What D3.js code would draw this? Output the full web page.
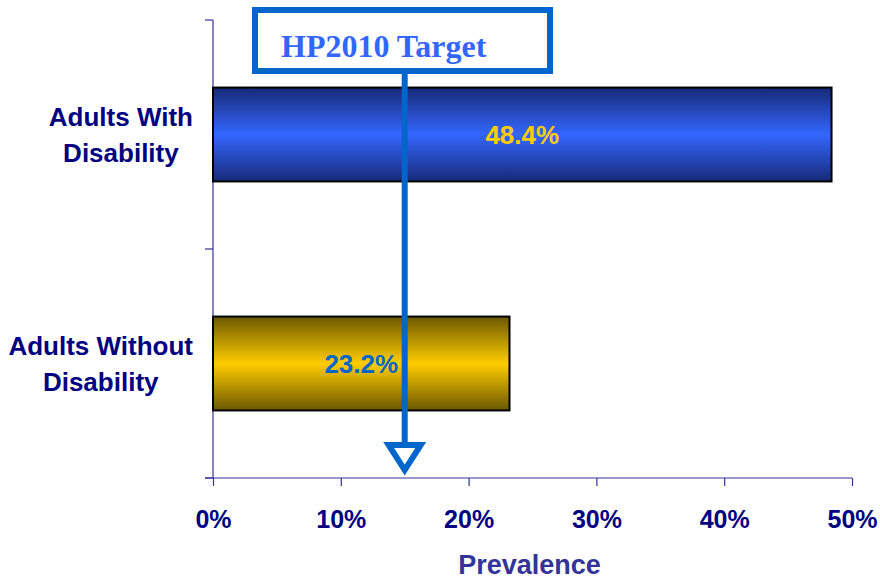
<!DOCTYPE html>
<html lang="en">
<head>
<meta charset="UTF-8">
<title>Prevalence</title>
<script src="https://d3js.org/d3.v7.min.js"></script>
<style>
  body { margin: 0; background: #fff; }
  text.sans { font-family: "Liberation Sans", Arial, sans-serif; font-weight: bold; }
  text.serif { font-family: "Liberation Serif", "Times New Roman", serif; font-weight: bold; }
</style>
</head>
<body>
<svg id="chart" width="880" height="580"></svg>
<script>
// data
const categories = [["Adults With", "Disability"], ["Adults Without", "Disability"]];
const values = [48.4, 23.2];
const valueLabels = ["48.4%", "23.2%"];
const xTicks = [0, 10, 20, 30, 40, 50];
const targetValue = 15;
const targetLabel = "HP2010 Target";

const svg = d3.select("#chart");
const margin = { top: 20, right: 28, bottom: 102, left: 213 };
const plotW = 880 - margin.left - margin.right;
const plotH = 580 - margin.top - margin.bottom;
const axisColor = "#333399";
const navy = "#000080";

const defs = svg.append("defs");
function addGradient(id, edge, mid) {
  const g = defs.append("linearGradient").attr("id", id)
    .attr("x1", 0).attr("y1", 0).attr("x2", 0).attr("y2", 1);
  g.append("stop").attr("offset", "0%").attr("stop-color", edge);
  g.append("stop").attr("offset", "50%").attr("stop-color", mid);
  g.append("stop").attr("offset", "100%").attr("stop-color", edge);
}
addGradient("gBlue", "#172a78", "#3366ff");
addGradient("gGold", "#6b5800", "#ffcc00");
const fills = ["url(#gBlue)", "url(#gGold)"];
const labelColors = ["#ffcc00", "#0066cc"];

const chart = svg.append("g").attr("transform", `translate(${margin.left},${margin.top})`);

const x = d3.scaleLinear().domain([0, 50]).range([0, plotW]);
const y = d3.scaleBand().domain(d3.range(categories.length)).range([0, plotH]).paddingInner(0.59).paddingOuter(0.295);

// y axis with ticks at band boundaries
const yBounds = d3.range(categories.length + 1).map(i => i * plotH / categories.length);
chart.append("line").attr("x1", 0).attr("x2", 0).attr("y1", 0).attr("y2", plotH)
  .attr("stroke", axisColor).attr("stroke-width", 1.2);
chart.selectAll("line.ytick").data(yBounds).join("line").attr("class", "ytick")
  .attr("x1", -8).attr("x2", 0).attr("y1", d => d).attr("y2", d => d)
  .attr("stroke", axisColor).attr("stroke-width", 1.2);

// x axis
const xAxis = d3.axisBottom(x).tickValues(xTicks).tickFormat(d => d + "%").tickSize(8).tickPadding(24);
const xg = chart.append("g").attr("transform", `translate(0,${plotH})`).call(xAxis);
xg.select(".domain").attr("d", `M-8,0H${plotW}`).attr("stroke", axisColor).attr("stroke-width", 1.2);
xg.selectAll(".tick line").attr("stroke", axisColor).attr("stroke-width", 1.2);
xg.selectAll(".tick text").attr("class", "sans").attr("fill", navy).attr("font-size", 25);

// bars
chart.selectAll("rect.bar").data(values).join("rect").attr("class", "bar")
  .attr("x", 0).attr("y", (d, i) => y(i))
  .attr("width", d => x(d)).attr("height", y.bandwidth())
  .attr("fill", (d, i) => fills[i])
  .attr("stroke", "#000").attr("stroke-width", 2);

chart.selectAll("text.val").data(values).join("text").attr("class", "val sans")
  .attr("x", d => x(d) / 2).attr("y", (d, i) => y(i) + y.bandwidth() / 2 + 9)
  .attr("text-anchor", "middle").attr("font-size", 26)
  .attr("fill", (d, i) => labelColors[i])
  .text((d, i) => valueLabels[i]);

// category labels (centered lines, block right-aligned)
categories.forEach((lines, i) => {
  const t = chart.append("text").attr("class", "sans").attr("font-size", 26).attr("fill", navy).attr("text-anchor", "middle");
  const spans = lines.map((s, k) => t.append("tspan").attr("dy", k === 0 ? 0 : 36).text(s));
  const w = d3.max(spans, s => s.node().getComputedTextLength());
  const cx = -20 - w / 2;
  spans.forEach(s => s.attr("x", cx));
  t.attr("y", y(i) + y.bandwidth() / 2 - 9);
});

// axis title
chart.append("text").attr("class", "sans").attr("x", plotW / 2 - 3).attr("y", plotH + 96)
  .attr("text-anchor", "middle").attr("font-size", 27).attr("fill", axisColor)
  .text("Prevalence");

// HP2010 target marker
const tx = x(targetValue);
const boxL = 42, boxT = -10, boxW = 295, boxH = 61;
const blue = "#0066cc";
chart.append("line").attr("x1", tx).attr("x2", tx).attr("y1", boxT + boxH).attr("y2", plotH - 32)
  .attr("stroke", blue).attr("stroke-width", 6);
chart.append("path")
  .attr("d", `M${tx - 16},${plotH - 33}L${tx + 16},${plotH - 33}L${tx},${plotH - 8}Z`)
  .attr("fill", "#fff").attr("stroke", blue).attr("stroke-width", 6).attr("stroke-linejoin", "miter");
chart.append("rect").attr("x", boxL).attr("y", boxT).attr("width", boxW).attr("height", boxH)
  .attr("fill", "#fff").attr("stroke", blue).attr("stroke-width", 6);
chart.append("text").attr("class", "serif").attr("x", boxL + 26).attr("y", boxT + 47)
  .attr("font-size", 32).attr("fill", "#3366ff").text(targetLabel);
</script>
</body>
</html>
